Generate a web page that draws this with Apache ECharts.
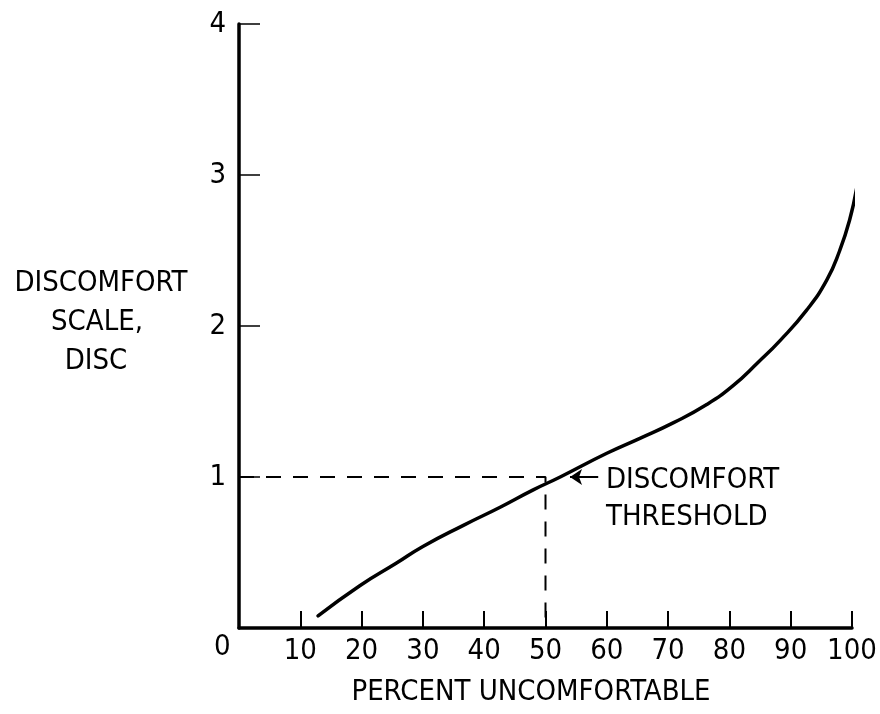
<!DOCTYPE html>
<html>
<head>
<meta charset="utf-8">
<script src="https://cdn.jsdelivr.net/npm/echarts@6/dist/echarts.min.js"></script>
<style>
html,body{margin:0;padding:0;background:#fff;}
#chart{width:880px;height:714px;}
</style>
</head>
<body>
<div id="chart"></div>
<script>
// Data
var curveX = [12.9, 19.7, 25.7, 30.0, 36.6, 42.6, 48.0, 52.4, 60.0, 65.4, 70.9, 76.3, 80.6, 84.7, 88.3, 92.6, 95.9, 98.0, 99.6, 100.8];
var curveY = [0.08, 0.28, 0.43, 0.54, 0.68, 0.80, 0.915, 1.0, 1.157, 1.256, 1.36, 1.48, 1.605, 1.76, 1.905, 2.105, 2.305, 2.50, 2.70, 2.92];
var thresholdX = [0, 50, 50];
var thresholdY = [1, 1, 0];
var arrowX = [58.6, 54.0];
var arrowY = [1, 1];
var xTicks = [0, 10, 20, 30, 40, 50, 60, 70, 80, 90, 100];
var yTicks = [0, 1, 2, 3, 4];
var xTitle = 'PERCENT UNCOMFORTABLE';
var yTitle = ['DISCOMFORT', 'SCALE,', 'DISC'];
var noteText = ['DISCOMFORT', 'THRESHOLD'];

var FONT = "'DejaVu Sans Condensed', 'Liberation Sans Narrow', sans-serif";
var FS = 29;

function zip(a, b) { return a.map(function (v, i) { return [v, b[i]]; }); }

var chart = echarts.init(document.getElementById('chart'), null, {renderer: 'canvas'});
var option = {
  animation: false,
  backgroundColor: '#ffffff',
  grid: {left: 239, right: 28, top: 24, bottom: 86},
  xAxis: {
    type: 'value', min: xTicks[0], max: xTicks[xTicks.length - 1], interval: 10,
    splitLine: {show: false},
    axisLine: {lineStyle: {color: '#000', width: 3.5}},
    axisTick: {inside: true, length: 17, lineStyle: {color: '#000', width: 2}},
    axisLabel: {
      color: '#000', fontFamily: FONT, fontSize: FS, margin: 9,
      formatter: function (v) { return v === 0 ? '' : String(v); }
    }
  },
  yAxis: {
    type: 'value', min: yTicks[0], max: yTicks[yTicks.length - 1], interval: 1,
    splitLine: {show: false},
    axisLine: {lineStyle: {color: '#000', width: 3.5}},
    axisTick: {inside: true, length: 21, lineStyle: {color: '#000', width: 1.5}},
    axisLabel: {
      color: '#000', fontFamily: FONT, fontSize: FS, margin: 13,
      formatter: function (v) { return v === 0 ? '' : String(v); }
    }
  },
  series: [
    {
      type: 'line', data: zip(thresholdX, thresholdY), symbol: 'none',
      lineStyle: {color: '#000', width: 2, type: [15, 12]}, z: 2
    },
    {
      type: 'line', data: zip(curveX, curveY), symbol: 'none', smooth: 0.5, clip: false,
      lineStyle: {color: '#000', width: 3.5, cap: 'round'}, z: 3
    },
    {
      type: 'lines', coordinateSystem: 'cartesian2d',
      data: [{coords: zip(arrowX, arrowY)}],
      symbol: ['none', 'arrow'], symbolSize: [0, 12],
      lineStyle: {color: '#000', width: 2, opacity: 1}, z: 3
    }
  ],
  graphic: [
    {type: 'text', left: 214, top: 633, style: {text: '0', font: FS + 'px ' + FONT, fill: '#000'}},
    {type: 'text', x: 531, y: 692, style: {text: xTitle, font: FS + 'px ' + FONT, fill: '#000', textAlign: 'center', textVerticalAlign: 'middle'}},
    {type: 'text', x: 101, y: 283, style: {text: yTitle[0], font: FS + 'px ' + FONT, fill: '#000', textAlign: 'center', textVerticalAlign: 'middle'}},
    {type: 'text', x: 97, y: 322, style: {text: yTitle[1], font: FS + 'px ' + FONT, fill: '#000', textAlign: 'center', textVerticalAlign: 'middle'}},
    {type: 'text', x: 96, y: 361, style: {text: yTitle[2], font: FS + 'px ' + FONT, fill: '#000', textAlign: 'center', textVerticalAlign: 'middle'}},
    {type: 'text', x: 606, y: 480, style: {text: noteText[0], font: FS + 'px ' + FONT, fill: '#000', textAlign: 'left', textVerticalAlign: 'middle'}},
    {type: 'text', x: 606, y: 517, style: {text: noteText[1], font: FS + 'px ' + FONT, fill: '#000', textAlign: 'left', textVerticalAlign: 'middle'}}
  ]
};
chart.setOption(option);
</script>
</body>
</html>
